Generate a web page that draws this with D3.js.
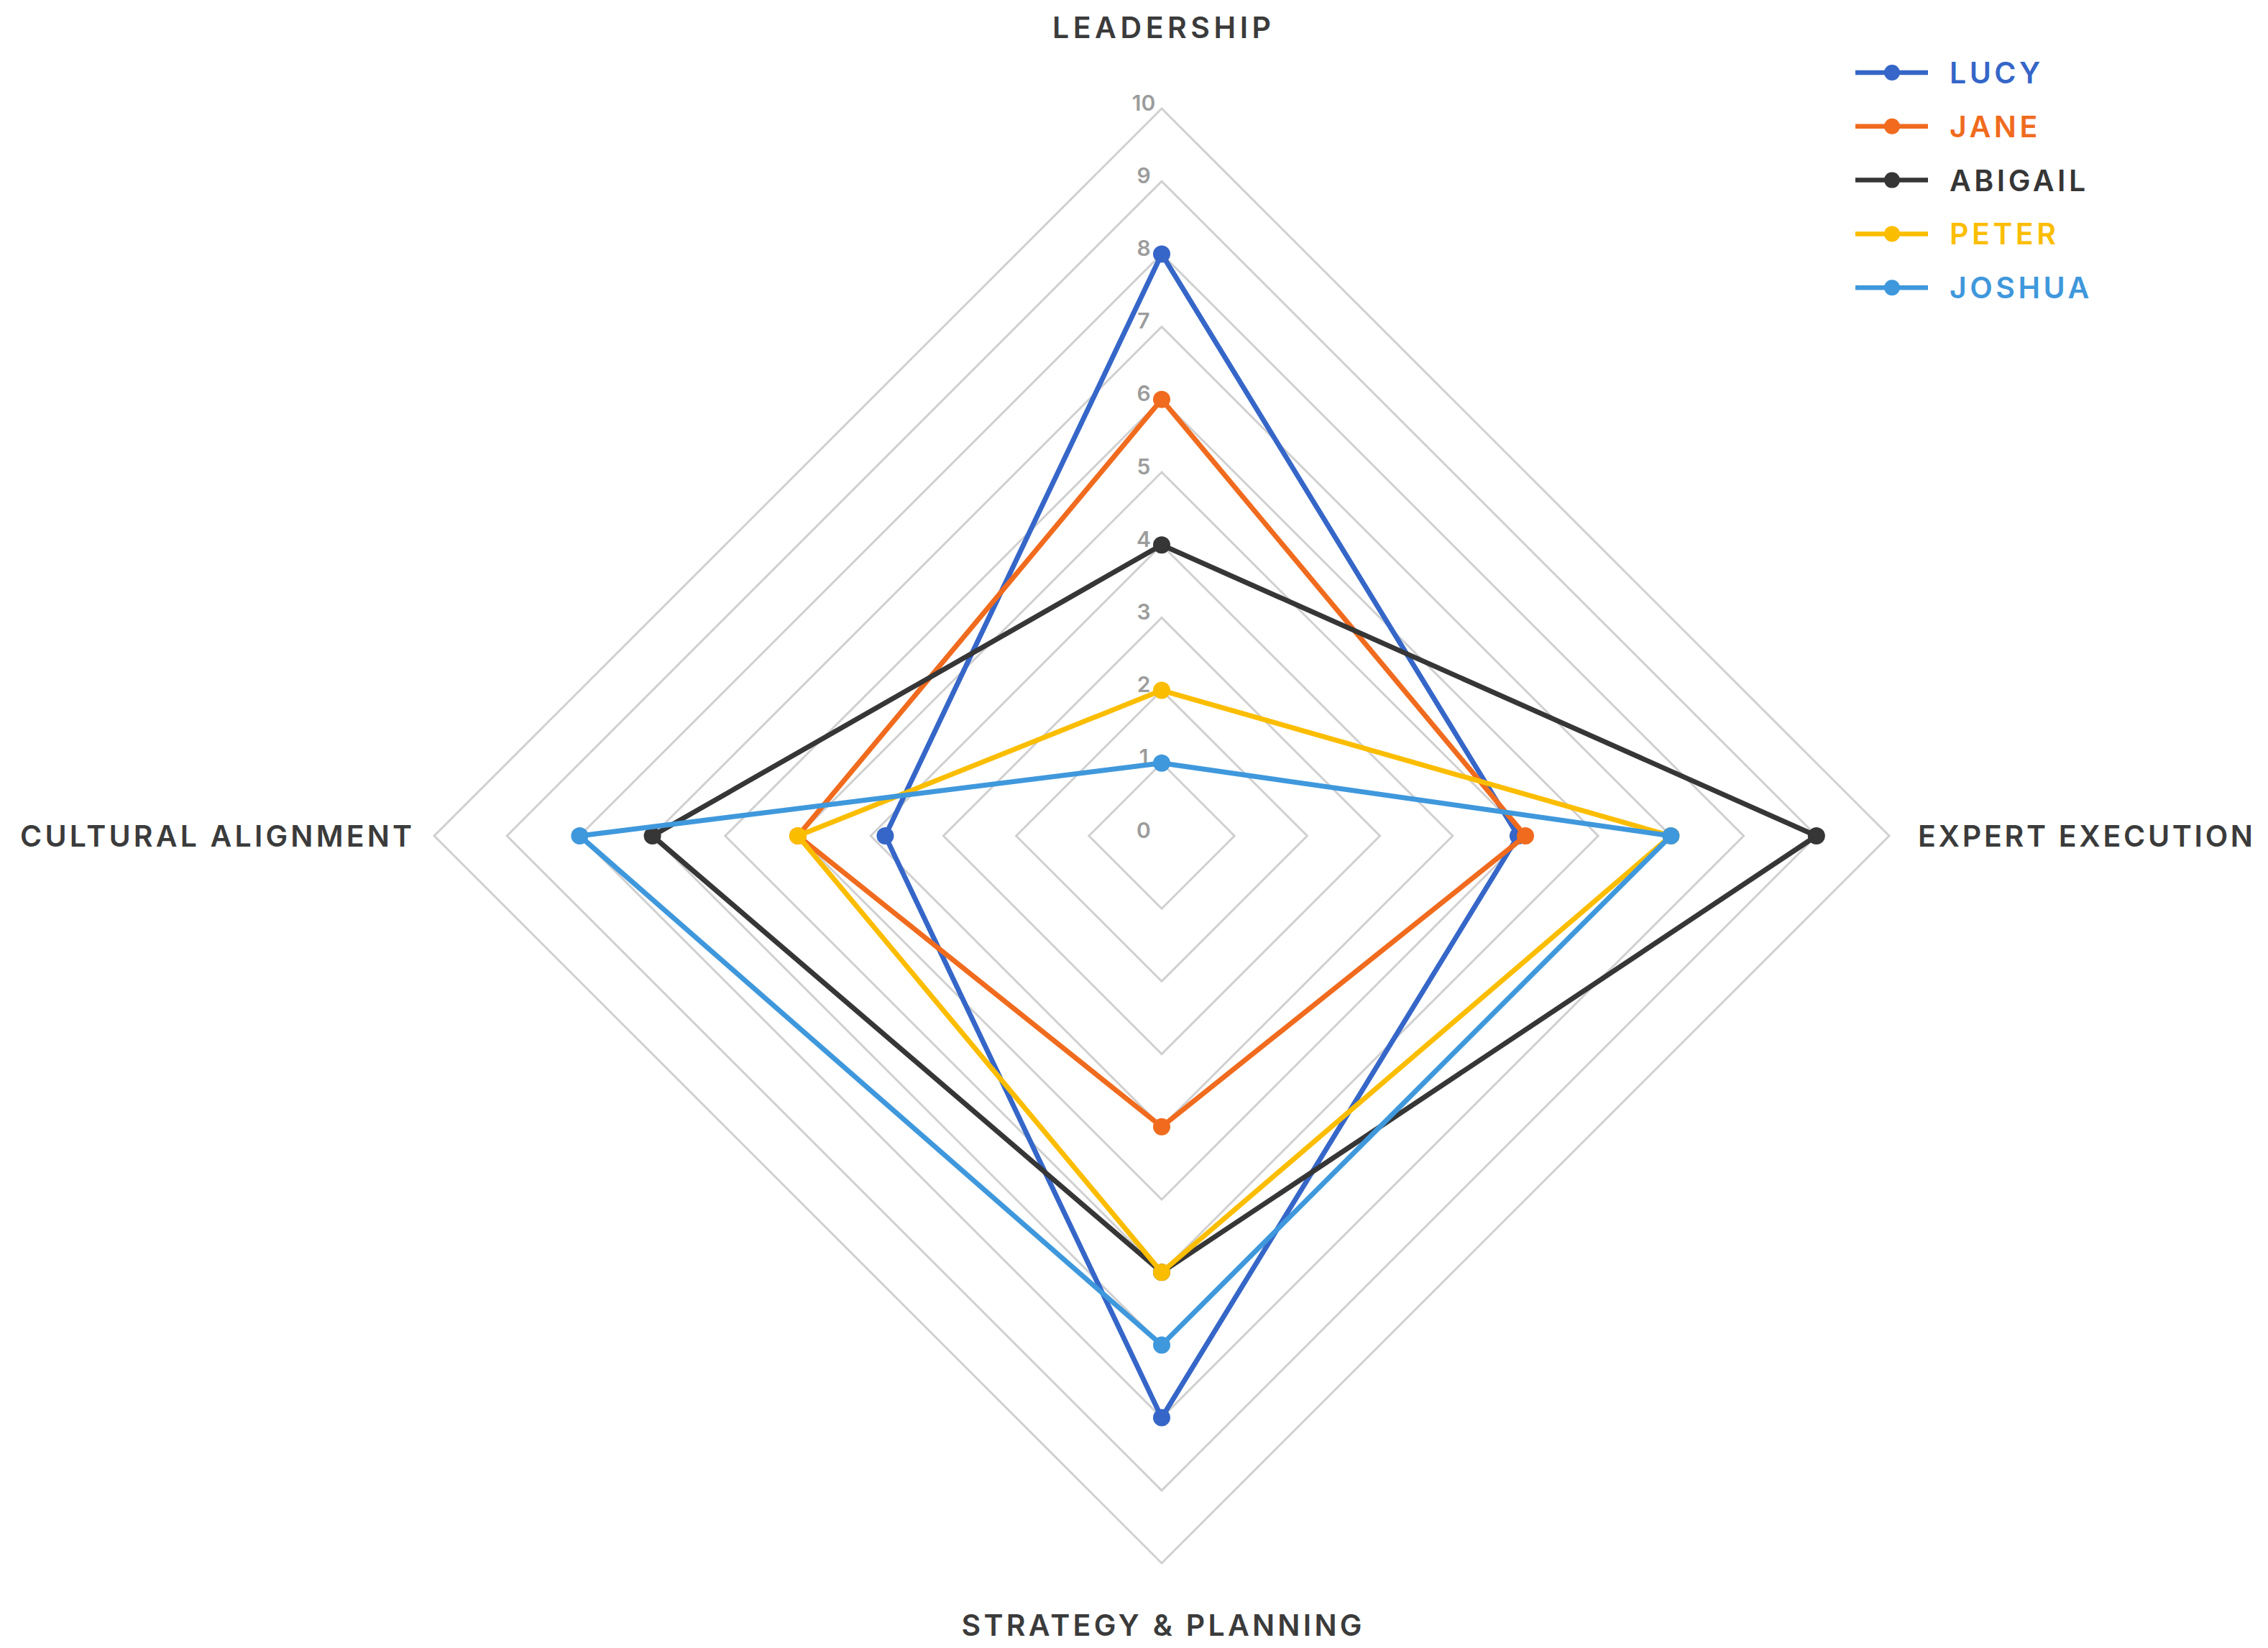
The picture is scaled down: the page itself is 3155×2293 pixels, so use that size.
<!DOCTYPE html>
<html>
<head>
<meta charset="utf-8">
<script src="https://cdn.jsdelivr.net/npm/d3@7"></script>
<style>
  body { margin: 0; background: #fff; }
  svg { display: block; font-family: "Inter", "Roboto", sans-serif; }
</style>
</head>
<body>
<svg width="3155" height="2293"></svg>
<script>
"use strict";

// Axes, clockwise from the top
var axes = ["LEADERSHIP", "EXPERT EXECUTION", "STRATEGY & PLANNING", "CULTURAL ALIGNMENT"];
var names = ["LUCY", "JANE", "ABIGAIL", "PETER", "JOSHUA"];

// Scores per person, same order as axes
var lucy    = [8, 4.9, 8, 3.8];
var jane    = [6, 5, 4, 5];
var abigail = [4, 9, 6, 7];
var peter   = [2, 7, 6, 5];
var joshua  = [1, 7, 7, 8];

var ticks = [0, 1, 2, 3, 4, 5, 6, 7, 8, 9, 10];

var series = [lucy, jane, abigail, peter, joshua];
var colors = ["#3566c8", "#f06b1e", "#363636", "#fbbd00", "#3f98dc"];

var cx = 1616, cy = 1163, R = 1012;

var svg = d3.select("svg");

// Radius scale
var r = d3.scaleLinear()
    .domain([0, 10])
    .range([0, R]);

// Angle for each axis (0 = top, clockwise)
var angle = d3.scalePoint()
    .domain(d3.range(axes.length + 1))
    .range([0, 2 * Math.PI]);

var chart = svg.append("g")
    .attr("transform", "translate(" + cx + "," + cy + ")");

// Grid rings
var ring = d3.lineRadial()
    .angle(function(d, i) { return angle(i); })
    .radius(function(d) { return r(d); })
    .curve(d3.curveLinearClosed);

chart.append("g")
    .attr("class", "grid")
    .selectAll("path")
    .data(ticks.slice(1))
    .enter().append("path")
    .attr("d", function(t) { return ring(axes.map(function() { return t; })); })
    .attr("fill", "none")
    .attr("stroke", "#d0d0d0")
    .attr("stroke-width", 3);

// Tick labels along the top axis
chart.append("g")
    .attr("class", "ticks")
    .selectAll("text")
    .data(ticks)
    .enter().append("text")
    .attr("x", -25)
    .attr("y", function(t) { return -r(t) - 8; })
    .attr("dy", "0.35em")
    .attr("text-anchor", "middle")
    .attr("fill", "#9c9c9c")
    .style("font-size", "30px")
    .style("font-weight", 600)
    .text(function(t) { return t; });

// Series lines
var line = d3.lineRadial()
    .angle(function(d, i) { return angle(i); })
    .radius(function(d) { return r(d); })
    .curve(d3.curveLinearClosed);

var people = chart.append("g")
    .attr("class", "series")
    .selectAll("g")
    .data(series)
    .enter().append("g");

people.append("path")
    .attr("d", function(d) { return line(d); })
    .attr("fill", "none")
    .attr("stroke", function(d, i) { return colors[i]; })
    .attr("stroke-width", 7)
    .attr("stroke-linejoin", "round");

people.each(function(d, i) {
    d3.select(this).selectAll("circle")
        .data(d)
        .enter().append("circle")
        .attr("cx", function(v, j) { return r(v) * Math.sin(angle(j)); })
        .attr("cy", function(v, j) { return -r(v) * Math.cos(angle(j)); })
        .attr("r", 12)
        .attr("fill", colors[i]);
});

// Axis labels (placement and fitted width)
var labelPos = [
    { x: 0, y: -R - 98, anchor: "middle", w: 304 },
    { x: R + 40, y: 15, anchor: "start", w: 466 },
    { x: 0, y: R + 101, anchor: "middle", w: 557 },
    { x: -R - 31, y: 15, anchor: "end", w: 545 }
];

chart.append("g")
    .attr("class", "axis-labels")
    .selectAll("text")
    .data(axes)
    .enter().append("text")
    .attr("x", function(d, i) { return labelPos[i].x; })
    .attr("y", function(d, i) { return labelPos[i].y; })
    .attr("text-anchor", function(d, i) { return labelPos[i].anchor; })
    .attr("textLength", function(d, i) { return labelPos[i].w; })
    .attr("lengthAdjust", "spacing")
    .attr("fill", "#3b3b3b")
    .style("font-size", "41px")
    .style("font-weight", 600)
    .text(function(d) { return d; });

// Legend
var legend = svg.append("g")
    .attr("class", "legend")
    .attr("transform", "translate(2581, 101)");

var rows = legend.selectAll("g")
    .data(names)
    .enter().append("g")
    .attr("transform", function(d, i) { return "translate(0," + (i * 74.8) + ")"; });

rows.append("line")
    .attr("x1", 0)
    .attr("x2", 101)
    .attr("stroke", function(d, i) { return colors[i]; })
    .attr("stroke-width", 6.5);

rows.append("circle")
    .attr("cx", 51)
    .attr("r", 11)
    .attr("fill", function(d, i) { return colors[i]; });

rows.append("text")
    .attr("x", 131)
    .attr("y", 15)
    .attr("fill", function(d, i) { return colors[i]; })
    .style("font-size", "41px")
    .style("font-weight", 600)
    .style("letter-spacing", "4.5px")
    .text(function(d) { return d; });
</script>
</body>
</html>
